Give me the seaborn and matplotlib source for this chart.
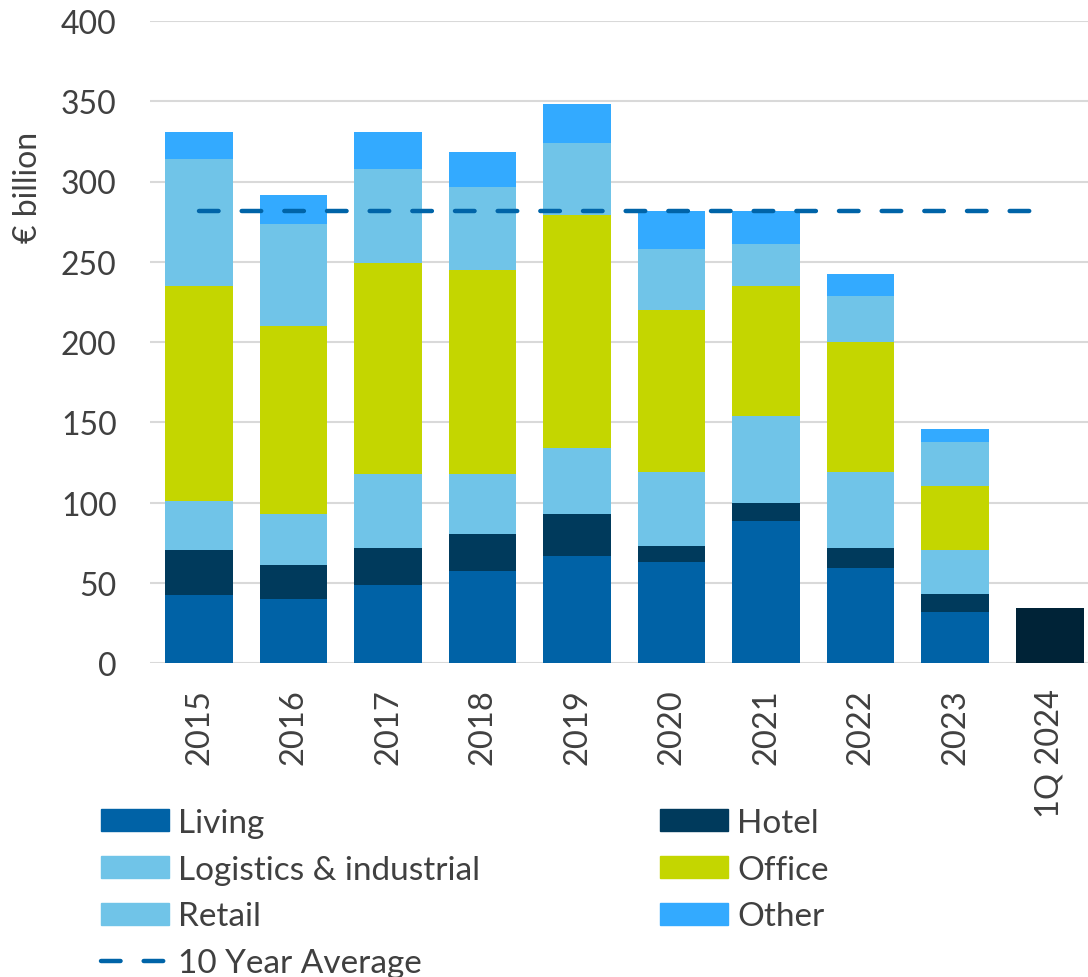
import numpy as np
import pandas as pd
import matplotlib
matplotlib.use("Agg")
import matplotlib.pyplot as plt
from matplotlib.patches import Patch
from matplotlib.lines import Line2D
import seaborn as sns

# Investment volumes by sector, € billion
periods = ["2015", "2016", "2017", "2018", "2019", "2020", "2021", "2022", "2023", "1Q 2024"]
living    = [42.5, 40.0, 48.8, 57.3, 66.8, 63.1, 88.4, 59.1, 31.8, 0]
hotel     = [28.0, 21.2, 22.8, 22.8, 26.2, 10.1, 11.0, 12.3, 11.2, 0]
logistics = [30.5, 31.8, 46.1, 37.6, 40.9, 45.5, 54.4, 47.5, 27.7, 0]
office    = [133.7, 117.2, 131.7, 127.0, 145.2, 101.3, 80.9, 81.0, 39.5, 0]
retail    = [79.1, 63.5, 58.4, 52.1, 45.1, 38.0, 26.4, 29.0, 27.2, 0]
other     = [17.0, 17.9, 23.0, 21.6, 24.2, 23.6, 20.3, 13.3, 8.5, 0]
q1_total  = [0, 0, 0, 0, 0, 0, 0, 0, 0, 34.4]
ten_year_average = 281.6

series = [
    ("Living", living, "#0062A6"),
    ("Hotel", hotel, "#003A5C"),
    ("Logistics & industrial", logistics, "#70C4E8"),
    ("Office", office, "#C4D600"),
    ("Retail", retail, "#70C4E8"),
    ("Other", other, "#33AAFF"),
]
avg_color = "#0064A8"
avg_dash = (0, (4.4, 5.2))

sns.set_theme(style="white")
plt.rcParams["font.family"] = ["Lato", "DejaVu Sans"]
text_color = "#404040"

fig = plt.figure(figsize=(10.88, 9.78), dpi=100)
ax = fig.add_axes([150 / 1088, 1 - 664 / 978, (1088 - 150) / 1088, (664 - 22) / 978])

# Stacked bars: draw running totals from the top segment down
cum = np.cumsum(np.array([s[1] for s in series], dtype=float), axis=0)
for i in range(len(series) - 1, -1, -1):
    df = pd.DataFrame({"period": periods, "value": cum[i]})
    sns.barplot(data=df, x="period", y="value", order=periods, color=series[i][2],
                saturation=1, width=0.715, linewidth=0, ax=ax, zorder=2)

df_q = pd.DataFrame({"period": periods, "value": q1_total})
sns.barplot(data=df_q, x="period", y="value", order=periods, color="#002337",
            saturation=1, width=0.715, linewidth=0, ax=ax, zorder=2)

# Ten-year average reference line
sns.lineplot(x=np.arange(len(periods)), y=[ten_year_average] * len(periods), ax=ax,
             color=avg_color, linewidth=3.2, zorder=3)
avg_line = ax.lines[-1]
avg_line.set_linestyle(avg_dash)
avg_line.set_dash_capstyle("round")

ax.set_ylim(0, 400)
ax.set_xlim(-0.52, 9.405)
ax.set_yticks(np.arange(0, 401, 50))
ax.yaxis.grid(True, color="#D9D9D9", linewidth=1.5, zorder=0)
ax.set_axisbelow(True)
for sp in ax.spines.values():
    sp.set_visible(False)
ax.tick_params(axis="y", length=0, pad=24, labelsize=23, labelcolor=text_color)
ax.tick_params(axis="x", length=0, pad=18, labelsize=23.5, labelcolor=text_color)
ax.set_xticks(range(len(periods)))
ax.set_xticklabels(periods, rotation=90, va="top", ha="center")
ax.set_xlabel("")
ax.set_ylabel("")
fig.text(28 / 1088, 1 - 187 / 978, "€ billion", rotation=90, ha="center", va="center",
         fontsize=23, color=text_color)

handles = [
    Patch(color=series[0][2], label="Living"),
    Patch(color=series[2][2], label="Logistics & industrial"),
    Patch(color=series[4][2], label="Retail"),
    Line2D([0], [0], color=avg_color, linewidth=3.2, linestyle=avg_dash,
           dash_capstyle="round", label="10 Year Average"),
    Patch(color=series[1][2], label="Hotel"),
    Patch(color=series[3][2], label="Office"),
    Patch(color=series[5][2], label="Other"),
]
leg = fig.legend(handles=handles, ncol=2, loc="upper left",
                 bbox_to_anchor=(101 / 1088, 1 - 809 / 978), frameon=False,
                 borderpad=0, borderaxespad=0,
                 fontsize=24, labelcolor=text_color, handlelength=2.04, handleheight=0.63,
                 handletextpad=0.27, columnspacing=5.4, labelspacing=0.5)

fig.savefig("out.png", dpi=100)
